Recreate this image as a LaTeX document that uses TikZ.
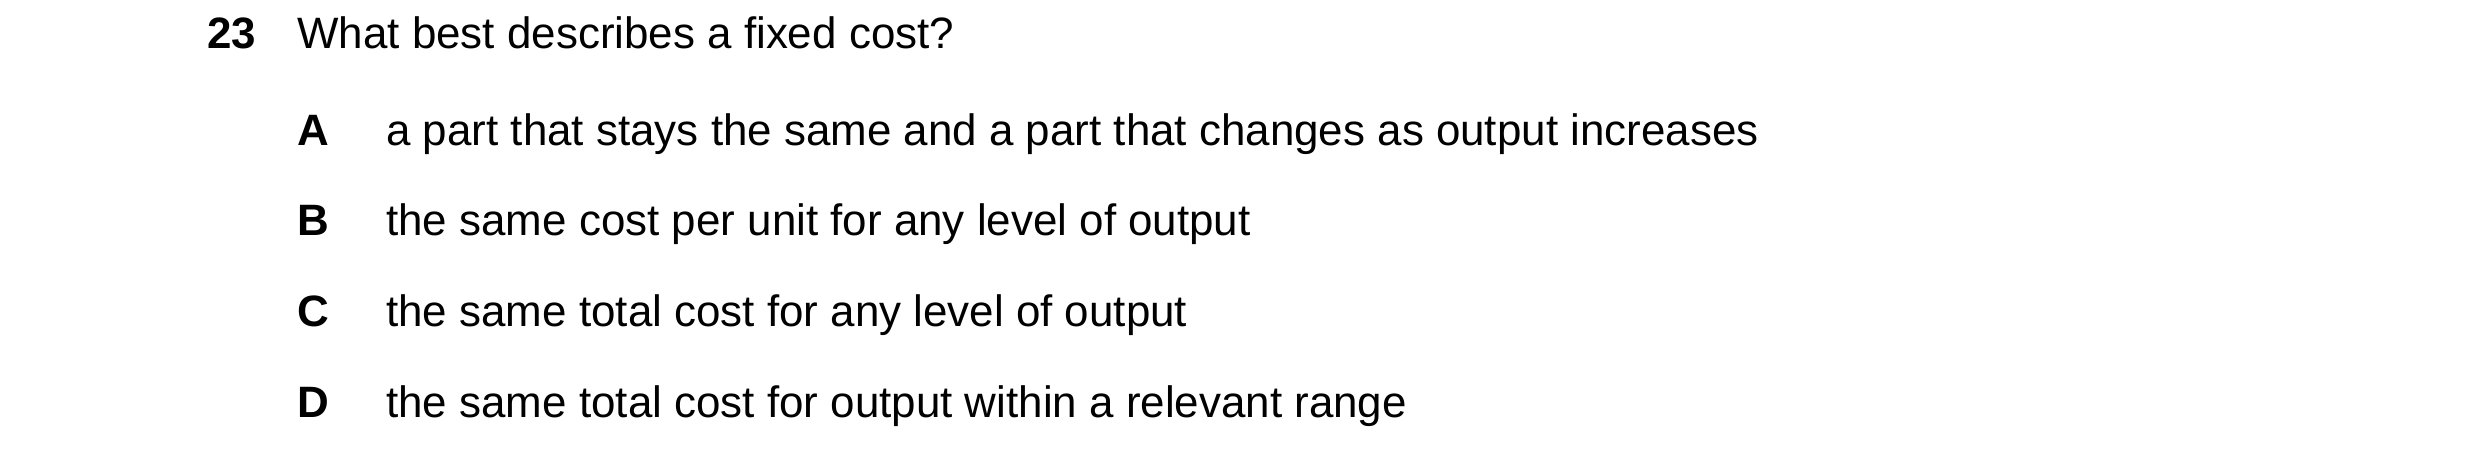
\documentclass[tikz,border=0pt]{standalone}
\usepackage{fontspec}
\setmainfont{Liberation Sans}
\begin{document}
\begin{tikzpicture}[x=0.02cm,y=-0.02cm,
  t/.style={anchor=base west,inner sep=0pt,font=\fontsize{25}{30}\selectfont},
  b/.style={t,font=\fontsize{25}{30}\selectfont\bfseries}]
\useasboundingbox (0,0) rectangle (2480,464);
\node[b] (n) at (207,48) {23};
\node[t] (q) at (297,48) {What best describes a fixed cost?};
\node[b] (la) at (297,145) {A};
\node[t] (a) at (386,145) {a part that stays the same and a part that changes as output increases};
\node[b] (lb) at (297,235) {B};
\node[t] (b) at (386,235) {the same cost per unit for any level of output};
\node[b] (lc) at (297,326) {C};
\node[t] (c) at (386,326) {the same total cost for any level of output};
\node[b] (ld) at (297,417) {D};
\node[t] (d) at (386,417) {the same total cost for output within a relevant range};
\end{tikzpicture}
\end{document}
